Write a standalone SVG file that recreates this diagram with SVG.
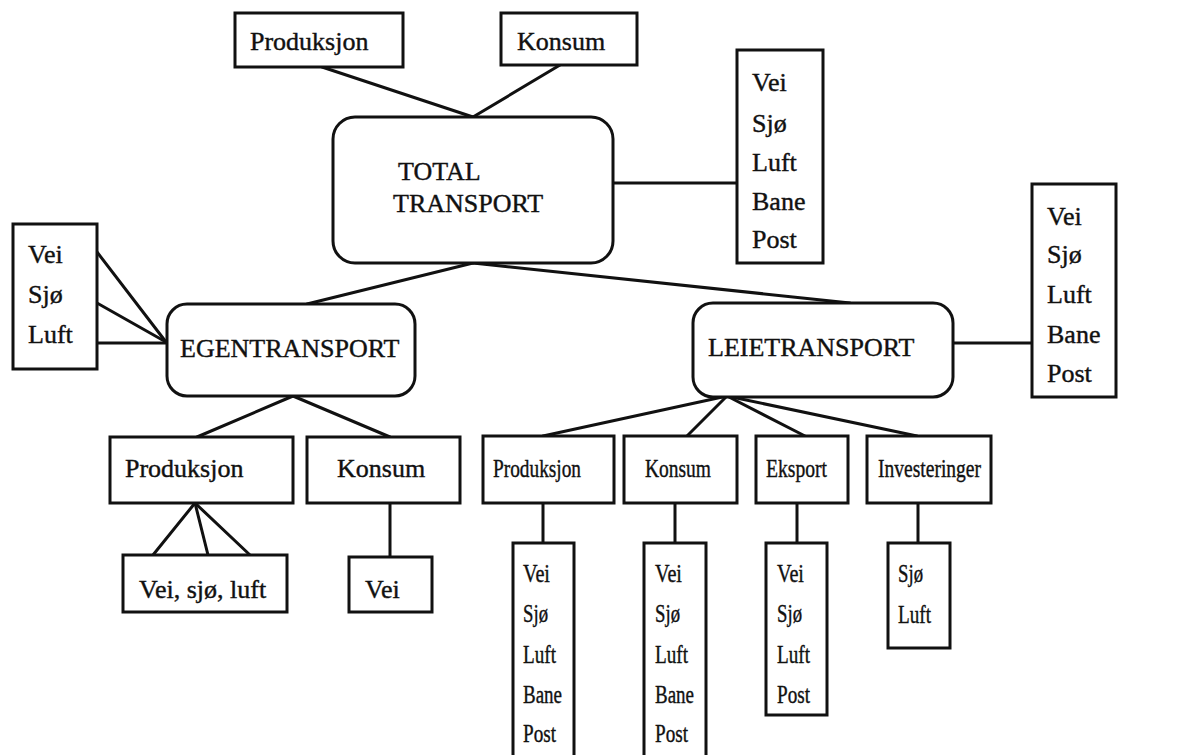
<svg xmlns="http://www.w3.org/2000/svg" width="1189" height="755" viewBox="0 0 1189 755">
<style>
rect{fill:#fff;stroke:#111;stroke-width:3}
line{stroke:#111;stroke-width:3;stroke-linecap:round}
text{font-family:"Liberation Serif","Times New Roman",serif;font-size:26px;fill:#111;stroke:#111;stroke-width:0.4}
</style>
<rect x="0" y="0" width="1189" height="755" style="stroke:none"/>
<g id="connectors">
<line x1="322" y1="67" x2="473" y2="117"/>
<line x1="560" y1="65" x2="473" y2="117"/>
<line x1="613" y1="183" x2="737" y2="183"/>
<line x1="473" y1="263" x2="307" y2="304"/>
<line x1="473" y1="263" x2="850" y2="303"/>
<line x1="97" y1="252" x2="166" y2="342"/>
<line x1="97" y1="303" x2="166" y2="342"/>
<line x1="97" y1="343" x2="166" y2="343"/>
<line x1="293" y1="396" x2="197" y2="437"/>
<line x1="293" y1="396" x2="390" y2="437"/>
<line x1="195" y1="503" x2="153" y2="555"/>
<line x1="195" y1="503" x2="208" y2="555"/>
<line x1="195" y1="503" x2="250" y2="555"/>
<line x1="390" y1="503" x2="390" y2="557"/>
<line x1="953" y1="343" x2="1032" y2="343"/>
<line x1="727" y1="396" x2="543" y2="436"/>
<line x1="727" y1="396" x2="687" y2="436"/>
<line x1="727" y1="396" x2="805" y2="436"/>
<line x1="727" y1="396" x2="917" y2="436"/>
<line x1="543" y1="503" x2="543" y2="543"/>
<line x1="675" y1="503" x2="675" y2="543"/>
<line x1="797" y1="503" x2="797" y2="543"/>
<line x1="918" y1="503" x2="918" y2="543"/>
</g>
<g id="top-produksjon"><rect x="235" y="13" width="168" height="54"/><text x="250" y="50">Produksjon</text></g>
<g id="top-konsum"><rect x="501" y="13" width="136" height="52"/><text x="517" y="50">Konsum</text></g>
<g id="total"><rect x="333" y="117" width="280" height="146" rx="22"/><text x="398" y="180">TOTAL</text><text x="393" y="212">TRANSPORT</text></g>
<g id="total-modes"><rect x="737" y="50" width="86" height="213"/><text x="752" y="91">Vei</text><text x="752" y="132">Sjø</text><text x="752" y="171">Luft</text><text x="752" y="210">Bane</text><text x="752" y="248">Post</text></g>
<g id="egen-modes"><rect x="13" y="224" width="84" height="145"/><text x="28" y="263">Vei</text><text x="28" y="303">Sjø</text><text x="28" y="343">Luft</text></g>
<g id="egentransport"><rect x="167" y="304" width="248" height="92" rx="20"/><text x="180" y="357">EGENTRANSPORT</text></g>
<g id="leietransport"><rect x="693" y="303" width="260" height="94" rx="20"/><text x="708" y="356">LEIETRANSPORT</text></g>
<g id="leie-modes"><rect x="1032" y="184" width="84" height="213"/><text x="1047" y="225">Vei</text><text x="1047" y="263">Sjø</text><text x="1047" y="303">Luft</text><text x="1047" y="343">Bane</text><text x="1047" y="382">Post</text></g>
<g id="egen-produksjon"><rect x="110" y="437" width="183" height="66"/><text x="125" y="477">Produksjon</text></g>
<g id="egen-konsum"><rect x="307" y="437" width="153" height="66"/><text x="337" y="477">Konsum</text></g>
<g id="egen-prod-modes"><rect x="123" y="555" width="164" height="57"/><text x="139" y="598">Vei, sjø, luft</text></g>
<g id="egen-konsum-modes"><rect x="349" y="557" width="83" height="55"/><text x="365" y="598">Vei</text></g>
<g id="leie-produksjon"><rect x="483" y="436" width="131" height="67"/><text x="493" y="477" textLength="88" lengthAdjust="spacingAndGlyphs">Produksjon</text></g>
<g id="leie-konsum"><rect x="624" y="436" width="113" height="67"/><text x="645" y="477" textLength="66" lengthAdjust="spacingAndGlyphs">Konsum</text></g>
<g id="leie-eksport"><rect x="756" y="436" width="92" height="67"/><text x="766" y="477" textLength="61" lengthAdjust="spacingAndGlyphs">Eksport</text></g>
<g id="leie-investeringer"><rect x="867" y="436" width="124" height="67"/><text x="878" y="477" textLength="103" lengthAdjust="spacingAndGlyphs">Investeringer</text></g>
<g id="leie-prod-modes"><rect x="513" y="543" width="61" height="220"/><text x="523" y="582" textLength="27" lengthAdjust="spacingAndGlyphs">Vei</text><text x="523" y="622" textLength="25" lengthAdjust="spacingAndGlyphs">Sjø</text><text x="523" y="663" textLength="33" lengthAdjust="spacingAndGlyphs">Luft</text><text x="523" y="703" textLength="39" lengthAdjust="spacingAndGlyphs">Bane</text><text x="523" y="742" textLength="33" lengthAdjust="spacingAndGlyphs">Post</text></g>
<g id="leie-konsum-modes"><rect x="644" y="543" width="62" height="220"/><text x="655" y="582" textLength="27" lengthAdjust="spacingAndGlyphs">Vei</text><text x="655" y="622" textLength="25" lengthAdjust="spacingAndGlyphs">Sjø</text><text x="655" y="663" textLength="33" lengthAdjust="spacingAndGlyphs">Luft</text><text x="655" y="703" textLength="39" lengthAdjust="spacingAndGlyphs">Bane</text><text x="655" y="742" textLength="33" lengthAdjust="spacingAndGlyphs">Post</text></g>
<g id="leie-eksport-modes"><rect x="766" y="543" width="61" height="172"/><text x="777" y="582" textLength="27" lengthAdjust="spacingAndGlyphs">Vei</text><text x="777" y="622" textLength="25" lengthAdjust="spacingAndGlyphs">Sjø</text><text x="777" y="663" textLength="33" lengthAdjust="spacingAndGlyphs">Luft</text><text x="777" y="703" textLength="33" lengthAdjust="spacingAndGlyphs">Post</text></g>
<g id="leie-invest-modes"><rect x="888" y="543" width="62" height="105"/><text x="898" y="582" textLength="25" lengthAdjust="spacingAndGlyphs">Sjø</text><text x="898" y="623" textLength="33" lengthAdjust="spacingAndGlyphs">Luft</text></g>
</svg>
